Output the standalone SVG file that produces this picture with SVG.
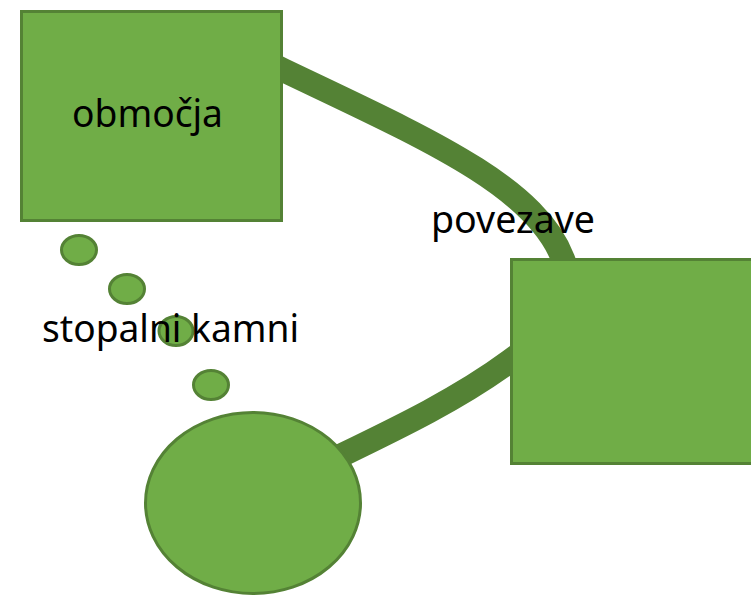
<svg xmlns="http://www.w3.org/2000/svg" width="751" height="596" viewBox="0 0 751 596">
<style>
.shape{fill:#70AD47;stroke:#548235;stroke-width:3}
.conn{fill:none;stroke:#548235;stroke-width:24}
.lbl{font-family:"Noto Sans","Open Sans","Liberation Sans",sans-serif;font-size:39px;fill:#000}
</style>
<rect width="751" height="596" fill="#fff"/>
<g id="connectors">
<path class="conn" d="M263,60 L283,70 C423,137 535,185 563,259 L570,278"/>
<path class="conn" d="M320,466 L340,456 C400,427 460,398 510,361 L530,346"/>
</g>
<g id="node-obmocja">
<rect class="shape" x="21.5" y="11.5" width="260" height="209"/>
<text class="lbl" x="72" y="127" textLength="151" lengthAdjust="spacingAndGlyphs">območja</text>
</g>
<g id="node-right">
<rect class="shape" x="511.5" y="259.5" width="260" height="204"/>
</g>
<g id="node-circle">
<ellipse class="shape" cx="253" cy="503" rx="107.5" ry="90.5"/>
</g>
<g id="stepping-stones">
<ellipse class="shape" cx="79" cy="250" rx="17.5" ry="14.5"/>
<ellipse class="shape" cx="127" cy="289" rx="17.5" ry="14.5"/>
<ellipse class="shape" cx="176" cy="331" rx="17" ry="14.5"/>
<ellipse class="shape" cx="211" cy="385" rx="17.5" ry="14.5"/>
</g>
<g id="labels">
<text class="lbl" x="431" y="233" textLength="164" lengthAdjust="spacingAndGlyphs">povezave</text>
<text class="lbl" x="42" y="342" textLength="257" lengthAdjust="spacingAndGlyphs">stopalni kamni</text>
</g>
</svg>
